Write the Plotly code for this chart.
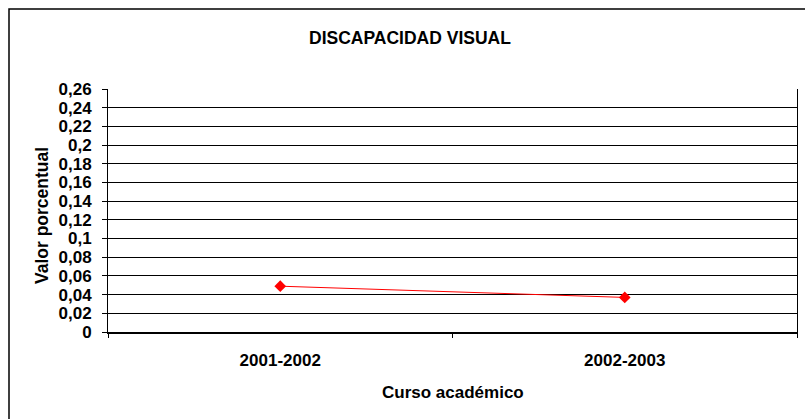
import plotly.graph_objects as go

categories = ["2001-2002", "2002-2003"]
values = [0.049, 0.037]
y_ticks = [0, 0.02, 0.04, 0.06, 0.08, 0.1, 0.12, 0.14, 0.16, 0.18, 0.2, 0.22, 0.24, 0.26]
y_tick_labels = ["0", "0,02", "0,04", "0,06", "0,08", "0,1", "0,12", "0,14", "0,16", "0,18", "0,2", "0,22", "0,24", "0,26"]

FONT = "Liberation Sans, Arial, sans-serif"
W, H = 805, 419
L, R, T, B = 108, 797, 89, 332
PW, PH = R - L, B - T


def px_x(x):
    return (x - L) / PW


def px_y(y):
    return (B - y) / PH


fig = go.Figure()
fig.add_trace(go.Scatter(
    x=categories, y=values, mode="lines+markers",
    line=dict(color="#ff0000", width=1),
    marker=dict(symbol="diamond", size=9, color="#ff0000"),
    showlegend=False,
))

fig.update_layout(
    width=W, height=H,
    margin=dict(l=L, r=W - R, t=T, b=H - B, autoexpand=False),
    paper_bgcolor="white", plot_bgcolor="white",
    font=dict(family=FONT, size=17, color="black"),
    xaxis=dict(
        type="category", range=[-0.5, 1.5], automargin=False,
        showline=True, linecolor="black", linewidth=2,
        ticks="outside", tickson="boundaries", ticklen=4, tickcolor="black", tickwidth=1,
        showgrid=False, zeroline=False,
        tickvals=categories, ticktext=["<b>%s</b>" % c for c in categories],
        tickfont=dict(size=17, family=FONT, color="black"),
        ticklabelstandoff=12,
    ),
    yaxis=dict(
        range=[0, 0.26], automargin=False,
        tickvals=y_ticks, ticktext=["<b>%s</b>" % t for t in y_tick_labels],
        showline=True, linecolor="black", linewidth=1, mirror=True,
        ticks="outside", ticklen=5, tickcolor="black",
        showgrid=True, gridcolor="black", gridwidth=1, zeroline=False,
        tickfont=dict(size=17, family=FONT, color="black"),
        ticklabelstandoff=7,
    ),
    annotations=[
        dict(text="<b>DISCAPACIDAD VISUAL</b>", xref="paper", yref="paper",
             x=px_x(410), y=px_y(38), xanchor="center", yanchor="middle",
             showarrow=False, font=dict(size=17.5, family=FONT, color="black")),
        dict(text="<b>Curso académico</b>", xref="paper", yref="paper",
             x=px_x(453), y=px_y(392), xanchor="center", yanchor="middle",
             showarrow=False, font=dict(size=17, family=FONT, color="black")),
        dict(text="<b>Valor porcentual</b>", xref="paper", yref="paper",
             x=px_x(42), y=px_y(216), xanchor="center", yanchor="middle",
             textangle=-90, showarrow=False, font=dict(size=17.5, family=FONT, color="black")),
    ],
    shapes=[dict(type="rect", xref="paper", yref="paper",
                 x0=px_x(9), x1=px_x(830), y0=px_y(440), y1=px_y(9),
                 line=dict(color="black", width=1.5), fillcolor="rgba(0,0,0,0)", layer="below")],
)

fig.write_html(
    "out.html",
    config={"displayModeBar": False},
    post_script="document.body.style.margin='0';document.body.style.overflow='hidden';",
)
